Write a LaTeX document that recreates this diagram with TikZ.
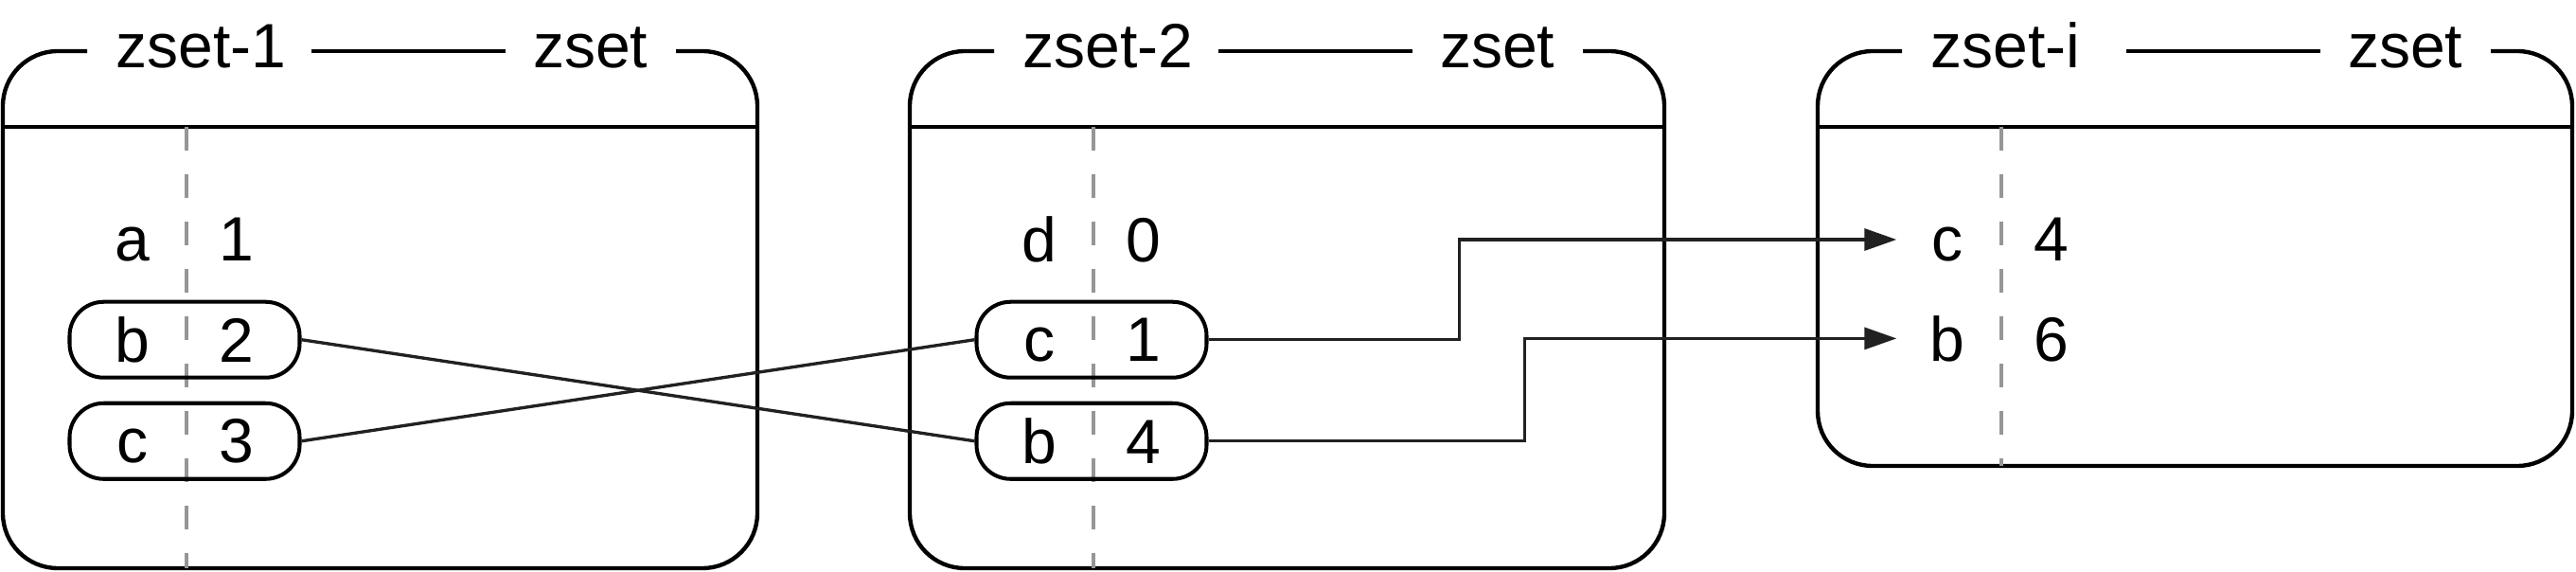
\documentclass[tikz,border=0pt]{standalone}
\usepackage{fontspec}
\setmainfont{Liberation Sans}
\usepackage{xcolor}
\usepackage{tikz}
\usetikzlibrary{arrows.meta, positioning}
\definecolor{divgray}{RGB}{150,150,150}
\newcommand{\kvpair}[2]{\makebox[1.1cm]{#1}\makebox[1.1cm]{#2}}

\begin{document}
\begin{tikzpicture}[
    node distance=0.23cm,
    frame/.style={draw, line width=1.25pt, rounded corners=0.58cm},
    rule/.style={draw, line width=1.25pt},
    divider/.style={draw=divgray, line width=1.1pt, dash pattern=on 0.25cm off 0.25cm},
    title/.style={inner sep=0pt, font=\fontsize{18.8}{22}\selectfont},
    entry/.style={minimum width=2.43cm, minimum height=0.8cm, inner sep=0pt, rounded corners=0.36cm, font=\fontsize{18.8}{22}\selectfont},
    moved/.style={entry, draw, line width=1.15pt},
    link/.style={line width=0.95pt, draw=black!87},
    arrow/.style={link, -{Triangle[length=0.34cm, width=0.23cm]}, shorten >=-0.135cm}
]
\useasboundingbox (0,0) rectangle (27.21,6.03);

% zset-1
\draw[frame] (0.92,5.49) -- (0.03,5.49) -- (0.03,0.03) -- (8.00,0.03) -- (8.00,5.49) -- (7.14,5.49);
\draw[rule] (3.29,5.49) -- (5.34,5.49);
\draw[rule] (0.03,4.69) -- (8.00,4.69);
\draw[divider] (1.97,4.69) -- (1.97,0.03);
\node[title, anchor=base west] (name1) at (1.22,5.31) {zset-1};
\node[title, anchor=base east] (type1) at (6.85,5.31) {zset};
\node[entry] (s1a) at (1.95,3.50) {\kvpair{a}{1}};
\node[moved, below=of s1a] (s1b) {\kvpair{b}{2}};
\node[moved, below=of s1b] (s1c) {\kvpair{c}{3}};

% zset-2
\draw[frame] (10.50,5.49) -- (9.61,5.49) -- (9.61,0.03) -- (17.58,0.03) -- (17.58,5.49) -- (16.72,5.49);
\draw[rule] (12.87,5.49) -- (14.92,5.49);
\draw[rule] (9.61,4.69) -- (17.58,4.69);
\draw[divider] (11.55,4.69) -- (11.55,0.03);
\node[title, anchor=base west] (name2) at (10.80,5.31) {zset-2};
\node[title, anchor=base east] (type2) at (16.43,5.31) {zset};
\node[entry] (s2d) at (11.53,3.50) {\kvpair{d}{0}};
\node[moved, below=of s2d] (s2c) {\kvpair{c}{1}};
\node[moved, below=of s2c] (s2b) {\kvpair{b}{4}};

% zset-i
\draw[frame] (20.09,5.49) -- (19.20,5.49) -- (19.20,1.11) -- (27.17,1.11) -- (27.17,5.49) -- (26.31,5.49);
\draw[rule] (22.46,5.49) -- (24.51,5.49);
\draw[rule] (19.20,4.69) -- (27.17,4.69);
\draw[divider] (21.14,4.69) -- (21.14,1.11);
\node[title, anchor=base west] (name3) at (20.39,5.31) {zset-i};
\node[title, anchor=base east] (type3) at (26.02,5.31) {zset};
\node[entry] (s3c) at (21.12,3.50) {\kvpair{c}{4}};
\node[entry, below=of s3c] (s3b) {\kvpair{b}{6}};

% Connections
\draw[link] (s1b.east) -- (s2b.west);
\draw[link] (s1c.east) -- (s2c.west);
\draw[arrow] (s2c.east) -- ++(2.65,0) |- (s3c.west);
\draw[arrow] (s2b.east) -- ++(3.34,0) |- (s3b.west);

\end{tikzpicture}
\end{document}
